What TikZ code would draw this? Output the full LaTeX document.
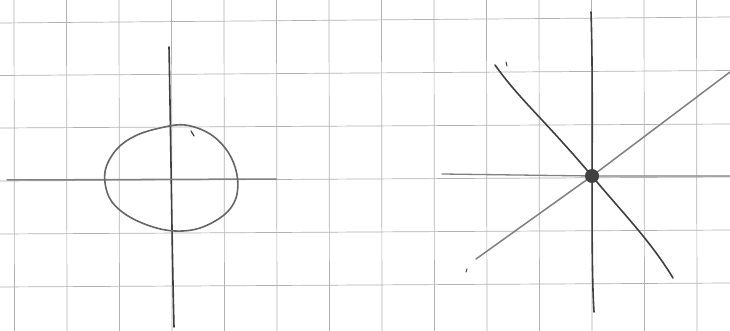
\documentclass[tikz,border=0pt]{standalone}
\begin{document}
\begin{tikzpicture}[x=1pt,y=-1pt,
  gridline/.style={draw=gray!60,line width=0.7pt},
  pen/.style={draw=black!75,line width=1.6pt,line cap=round,line join=round},
  lightpen/.style={draw=black!50,line width=1.5pt,line cap=round}]
\useasboundingbox (0,0) rectangle (730,331);
\fill[white] (0,0) rectangle (730,331);
% grid
\foreach \k in {0,...,13}{
  \draw[gridline] ({14+52.5*\k},0) -- ({14.5+52.5*\k},331);
}
\foreach \yl/\yr in {23/17,75.5/70.5,128/124,181/177,234/230,287/283}{
  \draw[gridline] (0,\yl) -- (730,\yr);
}
% left figure
\coordinate (lt) at (169,47);
\coordinate (lb) at (174,327);
\coordinate (ll) at (7,180);
\coordinate (lr) at (276,179);
\draw[pen] (lt) .. controls (171,150) and (172,250) .. (lb);
\draw[lightpen] (ll) -- (lr);
\draw[pen,draw=black!60] plot[smooth cycle,tension=0.6] coordinates {
 (105,172) (116,150) (135,136) (160,128) (185,125) (210,134) (228,152)
 (237,175) (236,198) (224,215) (200,228) (175,231) (150,226) (125,214) (109,197)};
\draw[pen,line width=1.2pt] (191,131) -- (194,136);
% right figure
\coordinate (c) at (592,176);
\coordinate (vt) at (591,12);
\coordinate (vb) at (594,312);
\coordinate (hl) at (442,174);
\coordinate (hr) at (730,176);
\coordinate (d1a) at (495,65);
\coordinate (d1b) at (673,278);
\coordinate (d2a) at (476,259);
\coordinate (d2b) at (730,72);
\draw[lightpen,line width=1.3pt] (hl) -- (c) -- (hr);
\draw[pen] (vt) .. controls (594,100) and (590,250) .. (vb);
\draw[pen] (d1a) .. controls (520,100) and (540,115) .. (c) .. controls (620,210) and (650,240) .. (d1b);
\draw[lightpen] (d2a) -- (c) -- (d2b);
\node[circle,fill=black!75,minimum size=14pt,inner sep=0pt] (dot) at (c) {};
\draw[pen,line width=1pt] (506,62) -- (507,66);
\draw[pen,line width=1pt] (467,269) -- (466,272);
\end{tikzpicture}
\end{document}
